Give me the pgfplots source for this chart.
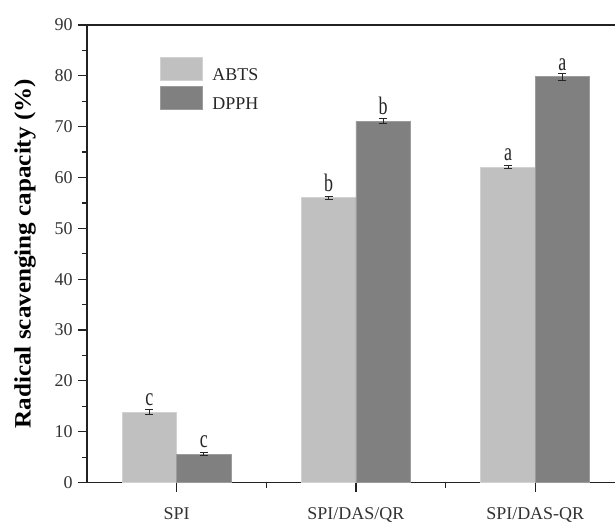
\documentclass[border=0pt]{standalone}
\usepackage{pgfplots}
\pgfplotsset{compat=1.18}
\usepackage{fontspec}
\setmainfont{Liberation Serif}
\usepackage{graphicx}
\definecolor{abts}{HTML}{C0C0C0}
\definecolor{abtsE}{HTML}{D2D2D2}
\definecolor{dpph}{HTML}{808080}
\definecolor{dpphE}{HTML}{9C9C9C}
\definecolor{axc}{HTML}{222222}
\pgfplotsset{
  errstyle/.style={error bars/.cd, y dir=both, y explicit,
    error bar style={line width=0.9pt, black!85},
    error mark options={rotate=90, mark size=4pt, line width=0.9pt, black!85}},
}
\begin{document}
\begin{tikzpicture}
\begin{axis}[
  scale only axis, width=529pt, height=458pt,
  xmin=-0.5, xmax=2.447, ymin=0, ymax=90,
  axis x line*=bottom, axis y line*=left,
  every outer x axis line/.append style={-},
  every outer y axis line/.append style={-},
  every inner x axis line/.append style={-},
  every inner y axis line/.append style={-},
  ybar=0pt, bar width=54.5pt,
  xtick={0,1,2}, xticklabels={SPI,SPI/DAS/QR,SPI/DAS-QR},
  minor xtick={0.5,1.5},
  ytick={0,10,...,90}, minor y tick num=1,
  tick align=outside,
  major tick length=9pt, minor tick length=5pt,
  axis line style={line width=1.2pt, axc},
  every tick/.style={line width=1.2pt, axc},
  tick label style={font=\fontsize{18}{21}\selectfont, text=black!80, inner sep=0pt},
  xticklabel style={yshift=-16pt},
  yticklabel style={xshift=-5pt},
  /pgf/number format/assume math mode=true,
  ylabel={\scalebox{1.07}[1]{Radical scavenging capacity (\%)}},
  ylabel style={font=\fontsize{23.5}{27}\selectfont\bfseries, at={(axis description cs:-0.1172,0.5)}, anchor=center, inner sep=0pt},
  point meta=explicit symbolic,
  nodes near coords={\scalebox{1}[1.4]{\pgfplotspointmeta}},
  nodes near coords style={anchor=south, inner sep=0pt, yshift=6pt, font=\fontsize{18}{20}\selectfont, text=black!85},
  legend image code/.code={\fill[#1] (0pt,-5.75pt) rectangle (42pt,17.25pt); \path[draw=none,fill=none] (0pt,0pt) rectangle (52pt,0.1pt);},
  legend style={at={(axis description cs:0.138,0.9301)}, anchor=north west, draw=none, fill=none, inner sep=0pt, row sep=0pt, column sep=0pt,
    nodes={inner sep=0pt, text height=17.25pt, text depth=5.75pt, font=\fontsize{18}{21}\selectfont, text=black!85}},
  legend cell align=left,
]
\addplot[fill=abts, draw=abtsE, line width=0.8pt, errstyle] table[x=x, y=y, y error=e, meta=l] {
x y e l
0 13.8 0.5 c
1 56.0 0.3 b
2 62.0 0.3 a
};
\addlegendentry{ABTS}
\addplot[fill=dpph, draw=dpphE, line width=0.8pt, errstyle] table[x=x, y=y, y error=e, meta=l] {
x y e l
0 5.6 0.3 c
1 71.1 0.5 b
2 79.8 0.7 a
};
\addlegendentry{DPPH}
\draw[line width=1.2pt, axc] (rel axis cs:0,1) -- (rel axis cs:1,1);
\end{axis}
\path (current axis.south west) ++(-87pt,-39pt) coordinate (bbA);
\path (current axis.north east) ++(0pt,25pt) coordinate (bbB);
\end{tikzpicture}
\end{document}
